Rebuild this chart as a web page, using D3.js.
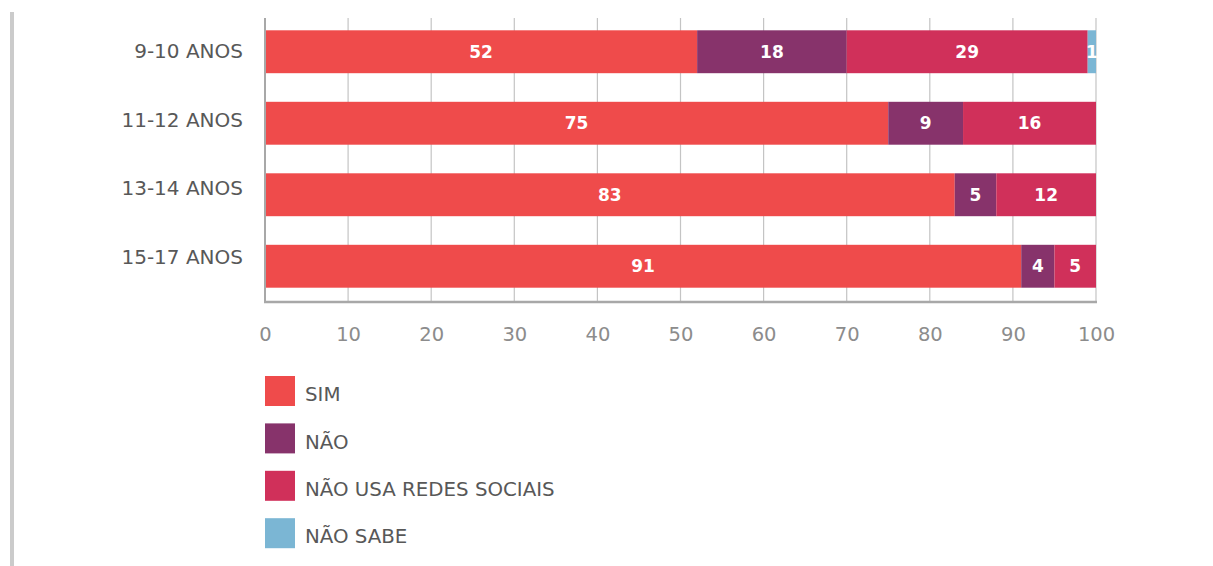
<!DOCTYPE html>
<html>
<head>
<meta charset="utf-8">
<script src="https://cdn.jsdelivr.net/npm/d3@7"></script>
<style>
  html, body { margin: 0; padding: 0; background: #fff; }
  svg { display: block; }
</style>
</head>
<body>
<svg id="chart" width="1213" height="566"></svg>
<script>
// Age groups (rows) and the response categories stacked in each bar
const ageGroups = ["9-10 ANOS", "11-12 ANOS", "13-14 ANOS", "15-17 ANOS"];
const responses = ["SIM", "NÃO", "NÃO USA REDES SOCIAIS", "NÃO SABE"];
const responseColors = ["#ef4b4b", "#87336b", "#d0305a", "#7bb6d4"];

// Percentage of each response per age group
const simValues = [52, 75, 83, 91];
const naoValues = [18, 9, 5, 4];
const naoUsaValues = [29, 16, 12, 5];
const naoSabeValues = [1, 0, 0, 0];

const xTicks = [0, 10, 20, 30, 40, 50, 60, 70, 80, 90, 100];

const rows = ageGroups.map((g, i) => ({
  group: g,
  "SIM": simValues[i],
  "NÃO": naoValues[i],
  "NÃO USA REDES SOCIAIS": naoUsaValues[i],
  "NÃO SABE": naoSabeValues[i]
}));

const svg = d3.select("#chart");
const font = "'DejaVu Sans', Verdana, sans-serif";

const x = d3.scaleLinear().domain([0, 100]).range([265, 1096]);
const y = d3.scaleBand().domain(ageGroups).range([16, 302]).paddingInner(0.4).paddingOuter(0.2);
// Category labels sit on a slightly tighter spacing than the bars
const yLabel = d3.scalePoint().domain(ageGroups).range([51, 257]);
const color = d3.scaleOrdinal().domain(responses).range(responseColors);

// Left page rule
svg.append("rect").attr("x", 10).attr("y", 12).attr("width", 4).attr("height", 554).attr("fill", "#cbcbcb");

// Vertical gridlines
svg.append("g").selectAll("line").data(xTicks).join("line")
  .attr("x1", d => x(d)).attr("x2", d => x(d))
  .attr("y1", 18).attr("y2", 302)
  .attr("stroke", "#c4c4c4").attr("stroke-width", 1.2);

// Stacked bars
const stack = d3.stack().keys(responses)(rows);
const layers = svg.append("g").selectAll("g").data(stack).join("g")
  .attr("fill", d => color(d.key));
layers.selectAll("rect").data(d => d.map(v => ({ key: d.key, v }))).join("rect")
  .attr("x", d => x(d.v[0]))
  .attr("y", d => y(d.v.data.group))
  .attr("width", d => x(d.v[1]) - x(d.v[0]))
  .attr("height", y.bandwidth());

// Value labels inside segments
layers.selectAll("text").data(d => d.map(v => ({ key: d.key, v })).filter(d => d.v[1] - d.v[0] > 0)).join("text")
  .attr("x", d => (x(d.v[0]) + x(d.v[1])) / 2)
  .attr("y", d => y(d.v.data.group) + y.bandwidth() / 2)
  .attr("dy", "0.36em")
  .attr("text-anchor", "middle")
  .attr("fill", "#ffffff")
  .attr("font-family", font)
  .attr("font-weight", "bold")
  .attr("font-size", 17)
  .text(d => d.v[1] - d.v[0]);

// Axes lines
svg.append("line").attr("x1", 265).attr("x2", 265).attr("y1", 18).attr("y2", 303)
  .attr("stroke", "#a8a8a8").attr("stroke-width", 2);
svg.append("line").attr("x1", 264).attr("x2", 1097).attr("y1", 302).attr("y2", 302)
  .attr("stroke", "#a8a8a8").attr("stroke-width", 2.5);

// X tick labels
const xAxis = d3.axisBottom(x).tickValues(xTicks).tickSize(0).tickPadding(25);
const gx = svg.append("g").attr("transform", "translate(0,302)").call(xAxis);
gx.select(".domain").remove();
gx.selectAll("text").attr("font-family", font).attr("font-size", 19.5).attr("fill", "#8c8c8c");

// Y category labels
const yAxis = d3.axisLeft(yLabel).tickSize(0).tickPadding(22);
const gy = svg.append("g").attr("transform", "translate(265,0)").call(yAxis);
gy.select(".domain").remove();
gy.selectAll("text").attr("font-family", font).attr("font-size", 20).attr("fill", "#585858");

// Legend
const legend = svg.append("g").selectAll("g").data(responses).join("g")
  .attr("transform", (d, i) => `translate(265, ${376 + i * 47.4})`);
legend.append("rect").attr("width", 30).attr("height", 30).attr("fill", d => color(d));
legend.append("text").attr("x", 40).attr("y", 18).attr("dy", "0.36em")
  .attr("font-family", font).attr("font-size", 19.8).attr("fill", "#585858")
  .text(d => d);
</script>
</body>
</html>
